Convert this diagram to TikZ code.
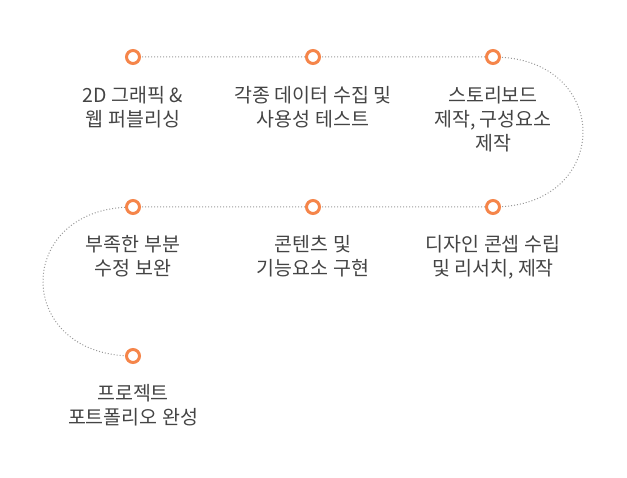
\documentclass[tikz,border=0pt]{standalone}
\usepackage{fontspec}
\newfontfamily\kofont{Noto Sans CJK KR}
\definecolor{dotorange}{HTML}{F5854A}
\definecolor{textgray}{HTML}{444444}
\begin{document}
\begin{tikzpicture}
    [
    x=1pt, y=-1pt,
    every marker/.style={circle, draw=dotorange, fill=white, line width=3pt, minimum size=13pt, inner sep=0pt},
    every label/.style={font=\kofont\fontsize{19.5}{24}\selectfont, text=textgray, align=center, anchor=north, inner sep=0pt},
    track/.style={draw=gray!80, dotted, line width=1pt},
    ]
    \useasboundingbox (0,0) rectangle (627,478);

    \coordinate (p1) at (133,57);
    \coordinate (p2) at (313,57);
    \coordinate (p3) at (493,57);
    \coordinate (p4) at (493,207);
    \coordinate (p5) at (313,207);
    \coordinate (p6) at (133,207);
    \coordinate (p7) at (133,356);

    \draw[track] (p1) -- (p2) -- (p3)
        .. controls (613,57) and (613,207) .. (p4)
        -- (p5) -- (p6)
        .. controls (13,207) and (13,356) .. (p7);

    \foreach \p in {p1,p2,p3,p4,p5,p6,p7}
        \node[every marker] (m_\p) at (\p) {};

    \node[every label] (lab_p1) at (133,86) {2D 그래픽 \&\\웹 퍼블리싱};
    \node[every label] (lab_p2) at (313,86) {각종 데이터 수집 및\\사용성 테스트};
    \node[every label] (lab_p3) at (493,86) {스토리보드\\제작, 구성요소\\제작};
    \node[every label] (lab_p5) at (313,235) {콘텐츠 및\\기능요소 구현};
    \node[every label] (lab_p4) at (493,235) {디자인 콘셉 수립\\및 리서치, 제작};
    \node[every label] (lab_p6) at (133,235) {부족한 부분\\수정 보완};
    \node[every label] (lab_p7) at (133,384) {프로젝트\\포트폴리오 완성};
\end{tikzpicture}
\end{document}
